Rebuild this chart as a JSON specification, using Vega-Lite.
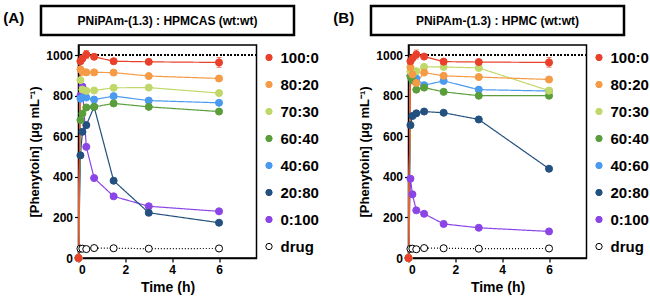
{
  "$schema": "https://vega.github.io/schema/vega-lite/v6.json",
  "padding": {"left": 2, "top": 4, "right": 0, "bottom": 0},
  "spacing": 6,
  "resolve": {"scale": {"stroke": "independent", "fill": "independent"}, "legend": {"stroke": "independent", "fill": "independent"}},
  "datasets": {
    "A": [
      {"s":"drug","t":0,"v":0},{"s":"drug","t":0.083,"v":46},{"s":"drug","t":0.167,"v":46},{"s":"drug","t":0.333,"v":44},{"s":"drug","t":0.667,"v":49},{"s":"drug","t":1.5,"v":48},{"s":"drug","t":3,"v":46},{"s":"drug","t":6,"v":47},
      {"s":"0:100","t":0,"v":0},{"s":"0:100","t":0.083,"v":800},{"s":"0:100","t":0.167,"v":845},{"s":"0:100","t":0.333,"v":548},{"s":"0:100","t":0.667,"v":394},{"s":"0:100","t":1.5,"v":304},{"s":"0:100","t":3,"v":255},{"s":"0:100","t":6,"v":230},
      {"s":"20:80","t":0,"v":0},{"s":"20:80","t":0.083,"v":506},{"s":"20:80","t":0.167,"v":622},{"s":"20:80","t":0.333,"v":655},{"s":"20:80","t":0.667,"v":745},{"s":"20:80","t":1.5,"v":381},{"s":"20:80","t":3,"v":223},{"s":"20:80","t":6,"v":174},
      {"s":"40:60","t":0,"v":0},{"s":"40:60","t":0.083,"v":785},{"s":"40:60","t":0.167,"v":791},{"s":"40:60","t":0.333,"v":791},{"s":"40:60","t":0.667,"v":781},{"s":"40:60","t":1.5,"v":798},{"s":"40:60","t":3,"v":776},{"s":"40:60","t":6,"v":765},
      {"s":"60:40","t":0,"v":0},{"s":"60:40","t":0.083,"v":680},{"s":"60:40","t":0.167,"v":712},{"s":"60:40","t":0.333,"v":742},{"s":"60:40","t":0.667,"v":745},{"s":"60:40","t":1.5,"v":762},{"s":"60:40","t":3,"v":745},{"s":"60:40","t":6,"v":722},
      {"s":"70:30","t":0,"v":0},{"s":"70:30","t":0.083,"v":877},{"s":"70:30","t":0.167,"v":830},{"s":"70:30","t":0.333,"v":824},{"s":"70:30","t":0.667,"v":826},{"s":"70:30","t":1.5,"v":839},{"s":"70:30","t":3,"v":840},{"s":"70:30","t":6,"v":813},
      {"s":"80:20","t":0,"v":0},{"s":"80:20","t":0.083,"v":930},{"s":"80:20","t":0.167,"v":918},{"s":"80:20","t":0.333,"v":915},{"s":"80:20","t":0.667,"v":915},{"s":"80:20","t":1.5,"v":914},{"s":"80:20","t":3,"v":897},{"s":"80:20","t":6,"v":885},
      {"s":"100:0","t":0,"v":0},{"s":"100:0","t":0.083,"v":970},{"s":"100:0","t":0.167,"v":983},{"s":"100:0","t":0.333,"v":1003,"lo":983,"hi":1023},{"s":"100:0","t":0.667,"v":992},{"s":"100:0","t":1.5,"v":970},{"s":"100:0","t":3,"v":967},{"s":"100:0","t":6,"v":964,"lo":940,"hi":988}
    ],
    "B": [
      {"s":"drug","t":0,"v":0},{"s":"drug","t":0.083,"v":45},{"s":"drug","t":0.167,"v":46},{"s":"drug","t":0.333,"v":43},{"s":"drug","t":0.667,"v":49},{"s":"drug","t":1.5,"v":48},{"s":"drug","t":3,"v":46},{"s":"drug","t":6,"v":47},
      {"s":"0:100","t":0,"v":0},{"s":"0:100","t":0.083,"v":391},{"s":"0:100","t":0.167,"v":314},{"s":"0:100","t":0.333,"v":235},{"s":"0:100","t":0.667,"v":218},{"s":"0:100","t":1.5,"v":168},{"s":"0:100","t":3,"v":149},{"s":"0:100","t":6,"v":131},
      {"s":"20:80","t":0,"v":0},{"s":"20:80","t":0.083,"v":655},{"s":"20:80","t":0.167,"v":700},{"s":"20:80","t":0.333,"v":713},{"s":"20:80","t":0.667,"v":722},{"s":"20:80","t":1.5,"v":716},{"s":"20:80","t":3,"v":683},{"s":"20:80","t":6,"v":440},
      {"s":"40:60","t":0,"v":0},{"s":"40:60","t":0.083,"v":900},{"s":"40:60","t":0.167,"v":880},{"s":"40:60","t":0.333,"v":885},{"s":"40:60","t":0.667,"v":852},{"s":"40:60","t":1.5,"v":873},{"s":"40:60","t":3,"v":830},{"s":"40:60","t":6,"v":823},
      {"s":"60:40","t":0,"v":0},{"s":"60:40","t":0.083,"v":895},{"s":"60:40","t":0.167,"v":875},{"s":"60:40","t":0.333,"v":830},{"s":"60:40","t":0.667,"v":840},{"s":"60:40","t":1.5,"v":819},{"s":"60:40","t":3,"v":800},{"s":"60:40","t":6,"v":800},
      {"s":"70:30","t":0,"v":0},{"s":"70:30","t":0.083,"v":920},{"s":"70:30","t":0.167,"v":918},{"s":"70:30","t":0.333,"v":921},{"s":"70:30","t":0.667,"v":942},{"s":"70:30","t":1.5,"v":942},{"s":"70:30","t":3,"v":937},{"s":"70:30","t":6,"v":825},
      {"s":"80:20","t":0,"v":0},{"s":"80:20","t":0.083,"v":940},{"s":"80:20","t":0.167,"v":905},{"s":"80:20","t":0.333,"v":863},{"s":"80:20","t":0.667,"v":914},{"s":"80:20","t":1.5,"v":898},{"s":"80:20","t":3,"v":892},{"s":"80:20","t":6,"v":880},
      {"s":"100:0","t":0,"v":0},{"s":"100:0","t":0.083,"v":970},{"s":"100:0","t":0.167,"v":985},{"s":"100:0","t":0.333,"v":1003,"lo":981,"hi":1025},{"s":"100:0","t":0.667,"v":993},{"s":"100:0","t":1.5,"v":968},{"s":"100:0","t":3,"v":966},{"s":"100:0","t":6,"v":964,"lo":941,"hi":988}
    ]
  },
  "hconcat": [
    {
      "resolve": {"scale": {"stroke": "independent", "fill": "independent"}, "legend": {"stroke": "independent", "fill": "independent"}},
      "vconcat": [
        {
          "width": 253, "height": 29,
          "view": {"stroke": "black", "strokeWidth": 2.5},
          "title": {"text": "(A)", "orient": "left", "angle": 0, "align": "right", "baseline": "middle", "offset": -4, "frame": "group", "anchor": "middle", "fontSize": 15, "fontWeight": "bold", "color": "black", "dy": -3},
          "data": {"values": [{"label": "PNiPAm-(1.3) : HPMCAS (wt:wt)"}]},
          "mark": {"type": "text", "fontSize": 12, "fontWeight": "bold", "color": "black"},
          "encoding": {"text": {"field": "label"}}
        },
        {
          "width": 178, "height": 213,
          "view": {"stroke": "black", "strokeWidth": 1.5},
          "data": {"name": "A"},
          "layer": [
            {"mark": {"type": "rule", "strokeDash": [1.5, 2], "color": "black", "strokeWidth": 1}, "encoding": {"y": {"datum": 1000, "type": "quantitative"}}},
            {
              "mark": {"type": "line", "strokeWidth": 1.2},
              "encoding": {
                "x": {"field": "t", "type": "quantitative", "title": "Time (h)", "scale": {"domain": [0, 7.6], "nice": false}, "axis": {"values": [0, 2, 4, 6]}},
                "y": {"field": "v", "type": "quantitative", "title": "[Phenytoin] (μg mL⁻¹)", "scale": {"domain": [0, 1050], "nice": false}, "axis": {"values": [0, 200, 400, 600, 800, 1000], "format": "d"}},
                "stroke": {"field": "s", "type": "nominal", "scale": {"domain": ["100:0","80:20","70:30","60:40","40:60","20:80","0:100","drug"], "range": ["#e8402a","#f59a45","#c0d86a","#5a9e3c","#4a9af0","#23507f","#8b45e6","black"]}, "legend": {"title": null, "symbolType": "circle"}},
                "strokeDash": {"condition": {"test": "datum.s === 'drug'", "value": [1, 2]}, "value": [1, 0]}
              }
            },
            {
              "transform": [{"filter": "isValid(datum.lo)"}],
              "mark": {"type": "errorbar", "ticks": true, "color": "#e8402a"},
              "encoding": {
                "x": {"field": "t", "type": "quantitative", "title": "Time (h)"},
                "y": {"field": "lo", "type": "quantitative", "title": "[Phenytoin] (μg mL⁻¹)"},
                "y2": {"field": "hi"}
              }
            },
            {
              "mark": {"type": "point", "size": 50, "strokeWidth": 1, "opacity": 1},
              "encoding": {
                "x": {"field": "t", "type": "quantitative", "title": "Time (h)"},
                "y": {"field": "v", "type": "quantitative", "title": "[Phenytoin] (μg mL⁻¹)"},
                "stroke": {"field": "s", "type": "nominal", "legend": {"title": null, "symbolType": "circle"}},
                "fill": {"field": "s", "type": "nominal", "scale": {"domain": ["100:0","80:20","70:30","60:40","40:60","20:80","0:100","drug"], "range": ["#e8402a","#f59a45","#c0d86a","#5a9e3c","#4a9af0","#23507f","#8b45e6","white"]}, "legend": {"title": null, "symbolType": "circle"}}
              }
            }
          ]
        }
      ],
      "spacing": 10, "bounds": "flush", "center": true
    },
    {
      "resolve": {"scale": {"stroke": "independent", "fill": "independent"}, "legend": {"stroke": "independent", "fill": "independent"}},
      "vconcat": [
        {
          "width": 253, "height": 29,
          "view": {"stroke": "black", "strokeWidth": 2.5},
          "title": {"text": "(B)", "orient": "left", "angle": 0, "align": "right", "baseline": "middle", "offset": -4, "frame": "group", "anchor": "middle", "fontSize": 15, "fontWeight": "bold", "color": "black", "dy": -3},
          "data": {"values": [{"label": "PNiPAm-(1.3) : HPMC (wt:wt)"}]},
          "mark": {"type": "text", "fontSize": 12, "fontWeight": "bold", "color": "black"},
          "encoding": {"text": {"field": "label"}}
        },
        {
          "width": 178, "height": 213,
          "view": {"stroke": "black", "strokeWidth": 1.5},
          "data": {"name": "B"},
          "layer": [
            {"mark": {"type": "rule", "strokeDash": [1.5, 2], "color": "black", "strokeWidth": 1}, "encoding": {"y": {"datum": 1000, "type": "quantitative"}}},
            {
              "mark": {"type": "line", "strokeWidth": 1.2},
              "encoding": {
                "x": {"field": "t", "type": "quantitative", "title": "Time (h)", "scale": {"domain": [0, 7.6], "nice": false}, "axis": {"values": [0, 2, 4, 6]}},
                "y": {"field": "v", "type": "quantitative", "title": "[Phenytoin] (μg mL⁻¹)", "scale": {"domain": [0, 1050], "nice": false}, "axis": {"values": [0, 200, 400, 600, 800, 1000], "format": "d"}},
                "stroke": {"field": "s", "type": "nominal", "scale": {"domain": ["100:0","80:20","70:30","60:40","40:60","20:80","0:100","drug"], "range": ["#e8402a","#f59a45","#c0d86a","#5a9e3c","#4a9af0","#23507f","#8b45e6","black"]}, "legend": {"title": null, "symbolType": "circle"}},
                "strokeDash": {"condition": {"test": "datum.s === 'drug'", "value": [1, 2]}, "value": [1, 0]}
              }
            },
            {
              "transform": [{"filter": "isValid(datum.lo)"}],
              "mark": {"type": "errorbar", "ticks": true, "color": "#e8402a"},
              "encoding": {
                "x": {"field": "t", "type": "quantitative", "title": "Time (h)"},
                "y": {"field": "lo", "type": "quantitative", "title": "[Phenytoin] (μg mL⁻¹)"},
                "y2": {"field": "hi"}
              }
            },
            {
              "mark": {"type": "point", "size": 50, "strokeWidth": 1, "opacity": 1},
              "encoding": {
                "x": {"field": "t", "type": "quantitative", "title": "Time (h)"},
                "y": {"field": "v", "type": "quantitative", "title": "[Phenytoin] (μg mL⁻¹)"},
                "stroke": {"field": "s", "type": "nominal", "legend": {"title": null, "symbolType": "circle"}},
                "fill": {"field": "s", "type": "nominal", "scale": {"domain": ["100:0","80:20","70:30","60:40","40:60","20:80","0:100","drug"], "range": ["#e8402a","#f59a45","#c0d86a","#5a9e3c","#4a9af0","#23507f","#8b45e6","white"]}, "legend": {"title": null, "symbolType": "circle"}}
              }
            }
          ]
        }
      ],
      "spacing": 10, "bounds": "flush", "center": true
    }
  ],
  "config": {
    "font": "Liberation Sans",
    "axis": {"labelFont": "Liberation Sans", "labelFontSize": 12, "labelFontWeight": "bold", "labelColor": "black", "titleFont": "Liberation Sans", "titleFontSize": 13, "titleFontWeight": "bold", "titleColor": "black", "domainColor": "black", "domainWidth": 1.5, "tickColor": "black", "tickSize": 4, "tickWidth": 1.2, "grid": false, "labelPadding": 2},
    "axisX": {"titleFontSize": 14, "titlePadding": 5},
    "axisY": {"titlePadding": 4},
    "legend": {"labelFont": "Liberation Sans", "labelFontSize": 15, "labelFontWeight": "bold", "labelColor": "black", "symbolSize": 40, "rowPadding": 11, "labelOffset": 4, "padding": 5, "offset": 0, "symbolStrokeWidth": 1},
    "title": {"font": "Liberation Sans"}
  }
}
